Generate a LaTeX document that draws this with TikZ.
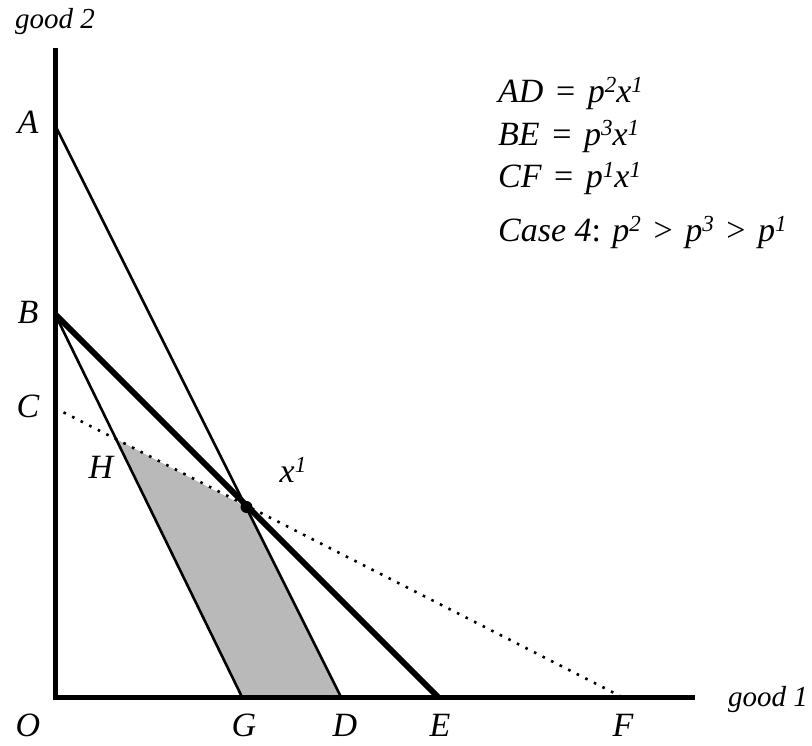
\documentclass[tikz,border=0pt]{standalone}
\usepackage{fontspec}
\setmainfont{Liberation Serif}
\newcommand{\supr}[1]{\raisebox{0.3em}{\fontsize{23}{23}\selectfont\itshape #1}}
\newcommand{\rel}[1]{\hspace{0.12em}{\upshape #1}\hspace{0.12em}}
\begin{document}
\begin{tikzpicture}[x=1pt,y=-1pt,
  lbl/.style={font=\fontsize{34}{40}\selectfont\itshape, inner sep=0pt},
  axis/.style={line width=5pt},
  thin line/.style={line width=2.6pt},
  thick line/.style={line width=6pt},
  dotline/.style={line width=2.6pt, dash pattern=on 2.6pt off 7pt}]
\useasboundingbox (0,0) rectangle (812,746);
% key points
\coordinate (O) at (55,697);
\coordinate (top) at (55,48);
\coordinate (right) at (695,697);
\coordinate (A) at (55,125);
\coordinate (B) at (55,314);
\coordinate (C) at (55,408);
\coordinate (D) at (341,697);
\coordinate (E) at (438,697);
\coordinate (G) at (242,697);
\coordinate (F) at (622,697);
\coordinate (X) at (246.5,507);
\coordinate (H) at (116,439);
% shaded region
\fill[gray!55] (H) -- (X) -- (D) -- (G) -- cycle;
% lines
\draw[thin line] (A) -- (D);
\draw[thin line] (B) -- (G);
\draw[thick line] (B) -- (E);
\draw[dotline] (C) -- (F);
% axes
\draw[axis] (top) -- (O) -- (right);
\fill (X) circle (6pt);
% labels
\node[lbl, font=\fontsize{29}{34}\selectfont\itshape] (gtwo) at (55,22) {good 2};
\node[lbl, font=\fontsize{29}{34}\selectfont\itshape, anchor=base west] (gone) at (728,706) {good 1};
\node[lbl] (lA) at (28,122) {A};
\node[lbl] (lB) at (28,312) {B};
\node[lbl] (lC) at (28,406) {C};
\node[lbl] (lH) at (101,467) {H};
\node[lbl] (lX) at (293,470) {x\supr{1}};
\node[lbl] (lO) at (28,725) {O};
\node[lbl] (lG) at (244,725) {G};
\node[lbl] (lD) at (345,725) {D};
\node[lbl] (lE) at (440,725) {E};
\node[lbl] (lF) at (623,725) {F};
\node[lbl, anchor=base west] (f1) at (498,103) {AD \rel{=} p\supr{2}x\supr{1}};
\node[lbl, anchor=base west] (f2) at (498,146) {BE \rel{=} p\supr{3}x\supr{1}};
\node[lbl, anchor=base west] (f3) at (498,188) {CF \rel{=} p\supr{1}x\supr{1}};
\node[lbl, anchor=base west] (f4) at (498,242) {Case 4{\upshape:} p\supr{2} \rel{>} p\supr{3} \rel{>} p\supr{1}};
\end{tikzpicture}
\end{document}
